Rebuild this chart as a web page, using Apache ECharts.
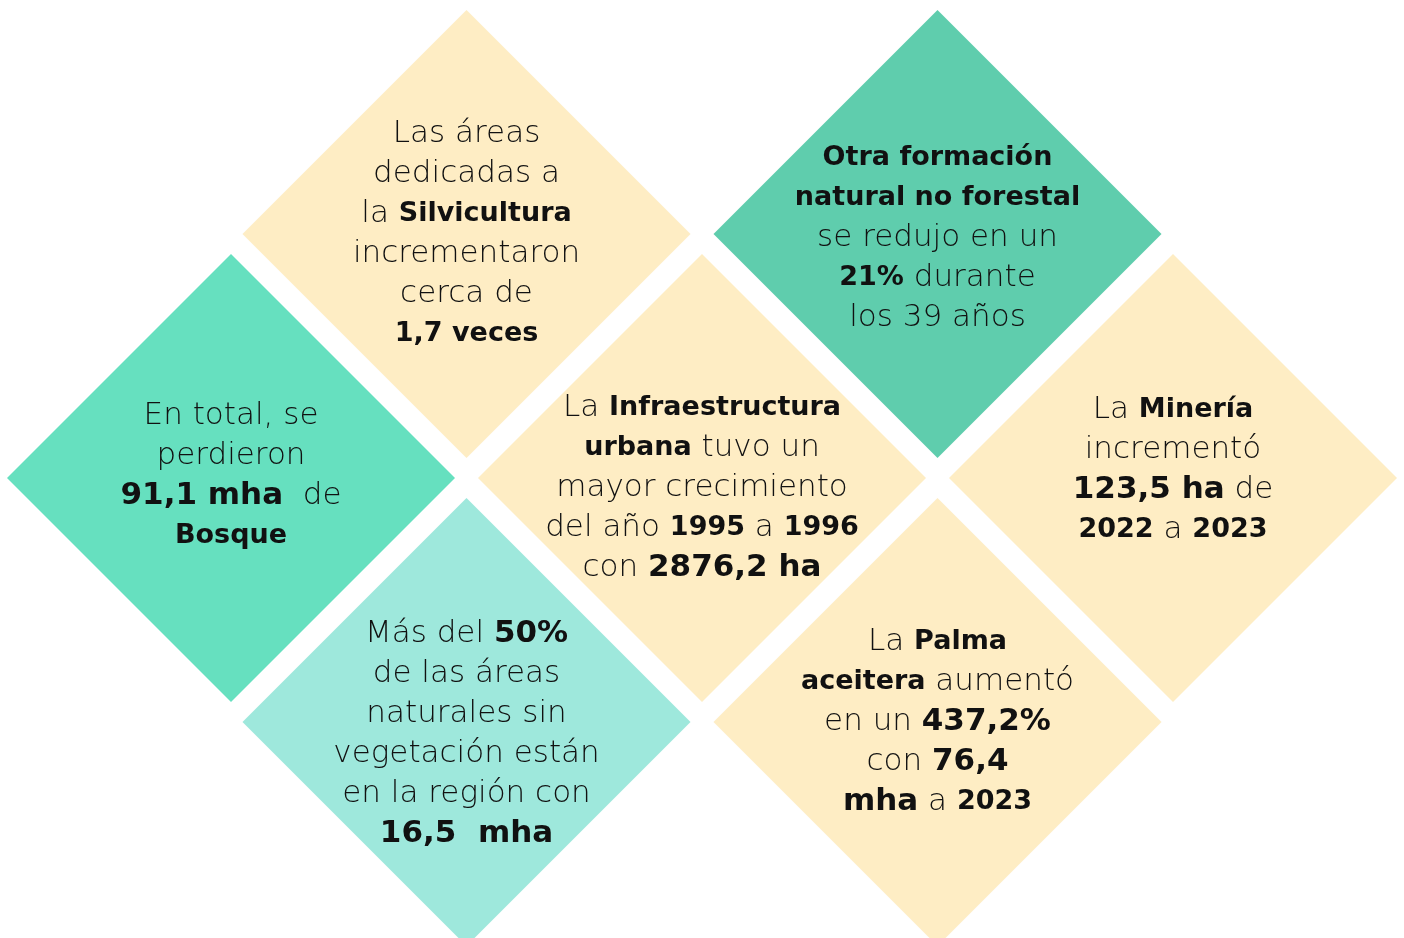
<!DOCTYPE html>
<html>
<head>
<meta charset="utf-8">
<script src="https://cdn.jsdelivr.net/npm/echarts@6/dist/echarts.min.js"></script>
<style>
html,body{margin:0;padding:0;background:#fff;}
#chart{width:1404px;height:938px;}
</style>
</head>
<body>
<div id="chart"></div>
<script>
// Grid position of each diamond: [column, row]
const cells = [[0,1],[1,0],[1,2],[2,1],[3,0],[3,2],[4,1]];
// Fill kind of each diamond
const kinds = ['forest','beige','bare','beige','grass','beige','beige'];
// Text of each diamond (rich text: r = regular, b = bold, B = big bold)
const texts = [
  '{r|En total, se}\n{r|perdieron}\n{B|91,1 mha}{r|  de}\n{b|Bosque}',
  '{r|Las áreas}\n{r|dedicadas a}\n{r|la }{b|Silvicultura}\n{r|incrementaron}\n{r|cerca de}\n{b|1,7 veces}',
  '{r|Más del }{B|50%}\n{r|de las áreas}\n{r|naturales sin}\n{r|vegetación están}\n{r|en la región con}\n{B|16,5  mha}',
  '{r|La }{b|Infraestructura}\n{b|urbana}{r| tuvo un}\n{r|mayor crecimiento}\n{r|del año }{b|1995}{r| a }{b|1996}\n{r|con }{B|2876,2 ha}',
  '{b|Otra formación}\n{b|natural no forestal}\n{r|se redujo en un}\n{b|21%}{r| durante}\n{r|los 39 años}',
  '{r|La }{b|Palma}\n{b|aceitera}{r| aumentó}\n{r|en un }{B|437,2%}\n{r|con }{B|76,4}\n{B|mha}{r| a }{b|2023}',
  '{r|La }{b|Minería}\n{r|incrementó}\n{B|123,5 ha}{r| de}\n{b|2022}{r| a }{b|2023}'
];

// layout only: small vertical nudges of each text block (px)
const textNudge = [-2, 0, 12, 10, 4, 0, -8];

const palette = {forest:'#66E0BF', beige:'#FEEDC4', bare:'#9EE8DC', grass:'#5FCDAD'};
const FONT = '"DejaVu Sans"';

const chart = echarts.init(document.getElementById('chart'), null, {renderer:'canvas'});
const data = cells.map((c,i)=>({
  value:[c[0], c[1]],
  itemStyle:{color: palette[kinds[i]], opacity:1},
  label:{formatter: texts[i], offset:[0, textNudge[i]]}
}));

chart.setOption({
  animation:false,
  backgroundColor:'#ffffff',
  grid:{left:231, right:231, top:234, bottom:216},
  xAxis:{type:'value', min:0, max:4, show:false},
  yAxis:{type:'value', min:0, max:2, inverse:true, show:false},
  series:[{
    type:'scatter',
    symbol:'diamond',
    symbolSize:[448,448],
    silent:true,
    itemStyle:{opacity:1},
    data:data,
    label:{
      show:true,
      position:'inside',
      align:'center',
      verticalAlign:'middle',
      color:'#111',
      opacity:1,
      fontFamily:FONT,
      rich:{
        r:{fontFamily:FONT, fontWeight:200, fontSize:31, lineHeight:40, color:'#111'},
        b:{fontFamily:FONT, fontWeight:700, fontSize:27, lineHeight:40, color:'#111'},
        B:{fontFamily:FONT, fontWeight:700, fontSize:31, lineHeight:40, color:'#111'}
      }
    }
  }]
});
</script>
</body>
</html>
